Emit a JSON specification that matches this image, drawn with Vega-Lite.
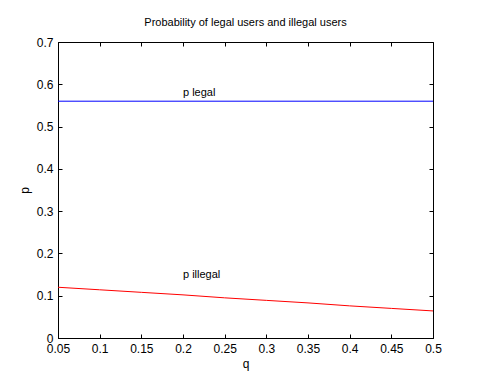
{
  "$schema": "https://vega.github.io/schema/vega-lite/v6.json",
  "width": 375,
  "height": 296,
  "autosize": {"type": "none"},
  "padding": {"left": 58, "top": 42, "right": 45, "bottom": 41},
  "background": "white",
  "title": {"text": "Probability of legal users and illegal users", "font": "Liberation Sans", "fontSize": 11, "fontWeight": "normal", "color": "black", "offset": 8},
  "config": {
    "view": {"stroke": "black", "strokeWidth": 1},
    "axis": {"domainColor": "black", "labelColor": "black", "titleColor": "black", "labelFont": "Liberation Sans", "titleFont": "Liberation Sans", "labelFontSize": 12, "titleFontSize": 12, "titleFontWeight": "normal", "ticks": false, "domainWidth": 1, "labelFlush": false, "labelOverlap": false, "grid": true, "gridColor": "black", "gridOpacity": 1, "gridWidth": 1}
  },
  "datasets": {
    "lines": [
      {"q": 0.05, "p": 0.56, "series": "p legal"},
      {"q": 0.5, "p": 0.56, "series": "p legal"},
      {"q": 0.05, "p": 0.12, "series": "p illegal"},
      {"q": 0.1, "p": 0.114, "series": "p illegal"},
      {"q": 0.15, "p": 0.108, "series": "p illegal"},
      {"q": 0.2, "p": 0.102, "series": "p illegal"},
      {"q": 0.25, "p": 0.095, "series": "p illegal"},
      {"q": 0.3, "p": 0.089, "series": "p illegal"},
      {"q": 0.35, "p": 0.083, "series": "p illegal"},
      {"q": 0.4, "p": 0.076, "series": "p illegal"},
      {"q": 0.45, "p": 0.07, "series": "p illegal"},
      {"q": 0.5, "p": 0.064, "series": "p illegal"}
    ],
    "labels": [
      {"q": 0.2, "p": 0.572, "label": "p legal"},
      {"q": 0.2, "p": 0.142, "label": "p illegal"}
    ]
  },
  "layer": [
    {
      "data": {"name": "lines"},
      "mark": {"type": "line", "strokeWidth": 1},
      "encoding": {
        "x": {"field": "q", "type": "quantitative", "scale": {"domain": [0.05, 0.5], "nice": false, "zero": false},
              "axis": {"values": [0.05, 0.1, 0.15, 0.2, 0.25, 0.3, 0.35, 0.4, 0.45, 0.5], "format": "~g", "title": "q", "labelPadding": 5, "titlePadding": 4, "gridDash": [4, 288, 4, 100]}},
        "y": {"field": "p", "type": "quantitative", "scale": {"domain": [0, 0.7], "nice": false},
              "axis": {"values": [0, 0.1, 0.2, 0.3, 0.4, 0.5, 0.6, 0.7], "format": "~g", "title": "p", "labelPadding": 5, "titlePadding": 5, "gridDash": [4, 367, 4, 100]}},
        "color": {"field": "series", "type": "nominal", "scale": {"domain": ["p legal", "p illegal"], "range": ["#0000ff", "#ff0000"]}, "legend": null},
        "detail": {"field": "series"}
      }
    },
    {
      "data": {"name": "labels"},
      "mark": {"type": "text", "align": "left", "baseline": "alphabetic", "font": "Liberation Sans", "fontSize": 11, "color": "black"},
      "encoding": {
        "x": {"field": "q", "type": "quantitative"},
        "y": {"field": "p", "type": "quantitative"},
        "text": {"field": "label"}
      }
    }
  ]
}
